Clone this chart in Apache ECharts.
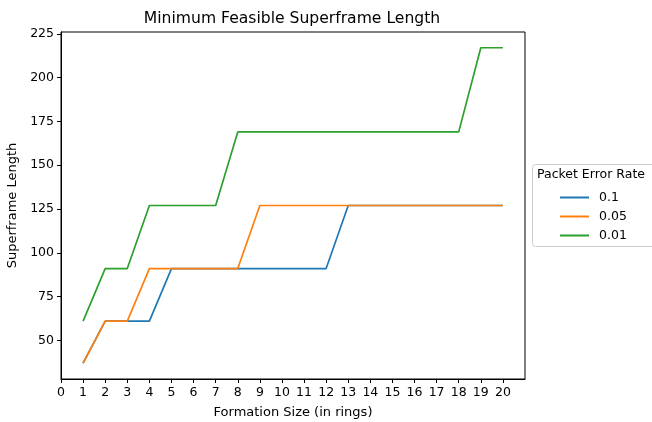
<!DOCTYPE html>
<html>
<head>
<meta charset="utf-8">
<script src="https://cdn.jsdelivr.net/npm/echarts@6/dist/echarts.min.js"></script>
<style>html,body{margin:0;padding:0;background:#fff}#c{width:652px;height:422px}</style>
</head>
<body>
<div id="c"></div>
<script>
const formationSizes = [1,2,3,4,5,6,7,8,9,10,11,12,13,14,15,16,17,18,19,20];
const per01  = [37,61,61,61,91,91,91,91,91,91,91,91,127,127,127,127,127,127,127,127];
const per005 = [37,61,61,91,91,91,91,91,127,127,127,127,127,127,127,127,127,127,127,127];
const per001 = [61,91,91,127,127,127,127,169,169,169,169,169,169,169,169,169,169,169,217,217];
const seriesNames = ['0.1','0.05','0.01'];
const xTicks = [0,1,2,3,4,5,6,7,8,9,10,11,12,13,14,15,16,17,18,19,20];
const yTicks = [50,75,100,125,150,175,200,225];

const font = 'DejaVu Sans';
const fs = 12.5;
const colors = ['#1f77b4','#ff7f0e','#2ca02c'];
const pairs = a => formationSizes.map((x,i)=>[x,a[i]]);

const chart = echarts.init(document.getElementById('c'), null, {renderer:'canvas'});
chart.setOption({
  animation:false,
  textStyle:{fontFamily:font},
  title:{text:'Minimum Feasible Superframe Length', left:287, top:6, textAlign:'center',
    textStyle:{fontFamily:font, fontSize:15.6, fontWeight:'normal', color:'#000'}},
  grid:{left:61, right:127, top:32, bottom:43, containLabel:false, outerBoundsMode:'none',
    show:true, borderColor:'#000', borderWidth:1, backgroundColor:'transparent'},
  xAxis:{type:'value', min:0, max:21,
    name:'Formation Size (in rings)', nameLocation:'middle', nameGap:27,
    nameTextStyle:{fontFamily:font, fontSize:13, color:'#000'},
    axisLine:{show:true, onZero:false, lineStyle:{color:'#000', width:1}},
    axisTick:{show:true, length:4, lineStyle:{color:'#000'}, customValues:xTicks},
    axisLabel:{fontFamily:font, fontSize:fs, color:'#000', margin:7, customValues:xTicks},
    splitLine:{show:false}},
  yAxis:{type:'value', min:28, max:226,
    name:'Superframe Length', nameLocation:'middle', nameGap:41,
    nameTextStyle:{fontFamily:font, fontSize:13, color:'#000'},
    axisLine:{show:true, onZero:false, lineStyle:{color:'#000', width:1}},
    axisTick:{show:true, length:4, lineStyle:{color:'#000'}, customValues:yTicks},
    axisLabel:{fontFamily:font, fontSize:fs, color:'#000', margin:7, customValues:yTicks},
    splitLine:{show:false}},
  legend:{orient:'vertical', left:555, top:186, icon:'rect', itemWidth:29, itemHeight:2, itemGap:6,
    data:seriesNames,
    textStyle:{fontFamily:font, fontSize:fs, color:'#000', padding:[0,0,0,5]}},
  graphic:[
    {type:'rect', left:532, top:164, shape:{width:130, height:82, r:3},
      style:{fill:'#fff', stroke:'#ccc', lineWidth:1}, z:0},
    {type:'text', left:537, top:168, style:{text:'Packet Error Rate', font:'12.5px "DejaVu Sans"', fill:'#000'}, z:1}
  ],
  series:[per01, per005, per001].map((d,i)=>({
    name:seriesNames[i], type:'line', data:pairs(d), showSymbol:false, symbol:'none',
    lineStyle:{color:colors[i], width:1.7}, itemStyle:{color:colors[i]}
  }))
});
</script>
</body>
</html>
